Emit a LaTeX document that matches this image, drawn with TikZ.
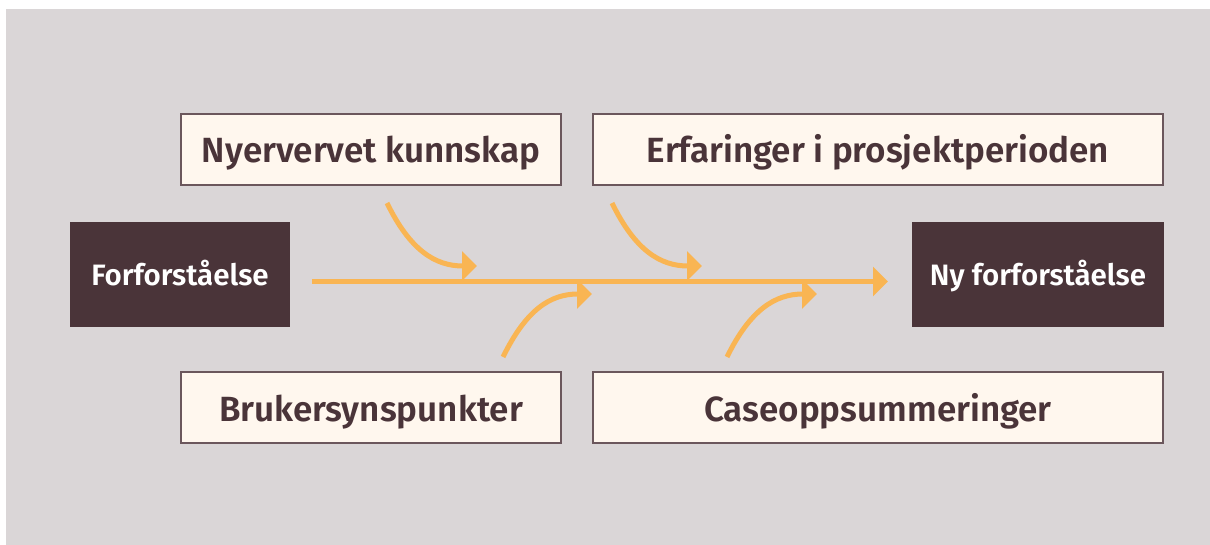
\documentclass[tikz,border=0pt]{standalone}
\usepackage{fontspec}
\setmainfont{Fira Sans}[BoldFont={Fira Sans SemiBold}]
\usetikzlibrary{arrows.meta}
\definecolor{bggrey}{HTML}{DAD6D7}
\definecolor{lightfill}{HTML}{FFF7EE}
\definecolor{boxline}{HTML}{6B575C}
\definecolor{darkbrown}{HTML}{4A3439}
\definecolor{flowor}{HTML}{F9B553}
\tikzset{
  lightbox/.style={draw=boxline, line width=1.5pt, fill=lightfill, text=darkbrown,
    minimum height=71pt, inner sep=0pt, text height=27pt, text depth=0pt,
    font=\bfseries\fontsize{35}{38}\selectfont},
  darkbox/.style={fill=darkbrown, text=white, minimum height=105pt, inner sep=0pt,
    text height=23pt, text depth=0pt, font=\bfseries\fontsize{29.5}{32}\selectfont},
  flow/.style={draw=flowor, line width=5pt,
    -{Triangle[length=15pt,width=29pt]}}
}
\begin{document}
\begin{tikzpicture}[x=1pt,y=-1pt]
\useasboundingbox (0,0) rectangle (1210,545);
\fill[bggrey] (6,9) rectangle (1210,545);

\node[lightbox, minimum width=380pt] (n1) at (371,149.5) {Nyervervet kunnskap};
\node[lightbox, minimum width=570pt] (n2) at (878,149.5) {Erfaringer i prosjektperioden};
\node[lightbox, minimum width=380pt] (n3) at (371,407.5) {Brukersynspunkter};
\node[lightbox, minimum width=570pt] (n4) at (878,407.5) {Caseoppsummeringer};
\node[darkbox, minimum width=220pt] (d1) at (180,274.5) {Forforståelse};
\node[darkbox, minimum width=252pt] (d2) at (1038,274.5) {Ny forforståelse};

\coordinate (ms) at (312,281.5);
\coordinate (me) at (888,281.5);
\draw[flow] (ms) -- (me);

\coordinate (a1s) at (387,203);
\coordinate (a1e) at (477,266);
\coordinate (a2s) at (612,203);
\coordinate (a2e) at (702,266);
\coordinate (b1s) at (503,357);
\coordinate (b1e) at (592,294);
\coordinate (b2s) at (727,357);
\coordinate (b2e) at (817,294);

\draw[flow] (a1s) .. controls +(23,47) and +(-42,0) .. (a1e);
\draw[flow] (a2s) .. controls +(23,47) and +(-42,0) .. (a2e);
\draw[flow] (b1s) .. controls +(23,-47) and +(-42,0) .. (b1e);
\draw[flow] (b2s) .. controls +(23,-47) and +(-42,0) .. (b2e);
\end{tikzpicture}
\end{document}
